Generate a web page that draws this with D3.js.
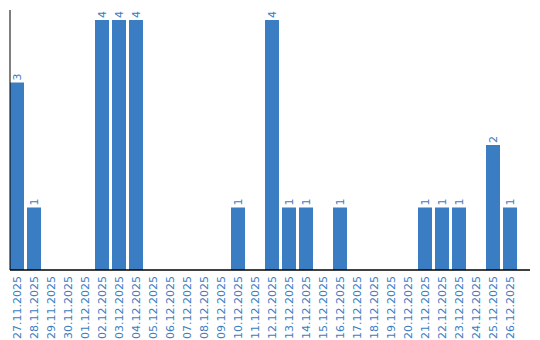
<!DOCTYPE html>
<html>
<head>
<meta charset="utf-8">
<script src="https://cdn.jsdelivr.net/npm/d3@7"></script>
<style>
  body { margin: 0; background: #fff; }
  text { font-family: "DejaVu Sans", sans-serif; }
</style>
</head>
<body>
<svg id="chart" width="540" height="340"></svg>
<script>

var dates = ["27.11.2025", "28.11.2025", "29.11.2025", "30.11.2025", "01.12.2025",
             "02.12.2025", "03.12.2025", "04.12.2025", "05.12.2025", "06.12.2025",
             "07.12.2025", "08.12.2025", "09.12.2025", "10.12.2025", "11.12.2025",
             "12.12.2025", "13.12.2025", "14.12.2025", "15.12.2025", "16.12.2025",
             "17.12.2025", "18.12.2025", "19.12.2025", "20.12.2025", "21.12.2025",
             "22.12.2025", "23.12.2025", "24.12.2025", "25.12.2025", "26.12.2025"];
var counts = [3, 1, 0, 0, 0, 4, 4, 4, 0, 0, 0, 0, 0, 1, 0, 4, 1, 1, 0, 1, 0, 0, 0, 0, 1, 1, 1, 0, 2, 1];

var blue = "#3b7dc2",
    baseY = 270,
    left = 10;

var svg = d3.select("#chart");

var x = d3.scaleBand()
    .domain(dates)
    .range([left, 517])
    .paddingInner(3 / 17)
    .paddingOuter(0);

var y = d3.scaleLinear()
    .domain([0, 4])
    .range([baseY, 20]);

var rows = dates.map(function(d, i) { return { date: d, value: counts[i] }; });

svg.selectAll("rect.bar")
    .data(rows.filter(function(d) { return d.value > 0; }))
    .enter().append("rect")
    .attr("class", "bar")
    .attr("x", function(d) { return x(d.date); })
    .attr("y", function(d) { return y(d.value); })
    .attr("width", x.bandwidth())
    .attr("height", function(d) { return baseY - y(d.value); })
    .attr("fill", blue);

// value labels
svg.selectAll("text.val")
    .data(rows.filter(function(d) { return d.value > 0; }))
    .enter().append("text")
    .attr("class", "val")
    .attr("transform", function(d) {
        return "translate(" + (x(d.date) + x.bandwidth() / 2 + 4) + "," + (y(d.value) - 2) + ") rotate(-90)";
    })
    .attr("font-size", 11)
    .attr("fill", blue)
    .text(function(d) { return d.value; });

// date labels
svg.selectAll("text.date")
    .data(dates)
    .enter().append("text")
    .attr("class", "date")
    .attr("transform", function(d) {
        return "translate(" + (x(d) + x.bandwidth() / 2 + 4) + "," + (baseY + 6) + ") rotate(-90)";
    })
    .attr("text-anchor", "end")
    .attr("font-size", 11)
    .attr("fill", blue)
    .text(function(d) { return d; });

// axes lines
svg.append("line")
    .attr("x1", left).attr("x2", left)
    .attr("y1", 10).attr("y2", baseY)
    .attr("stroke", "#000").attr("stroke-width", 1);

svg.append("line")
    .attr("x1", left).attr("x2", 530)
    .attr("y1", baseY).attr("y2", baseY)
    .attr("stroke", "#000").attr("stroke-width", 1.5);

</script>
</body>
</html>
